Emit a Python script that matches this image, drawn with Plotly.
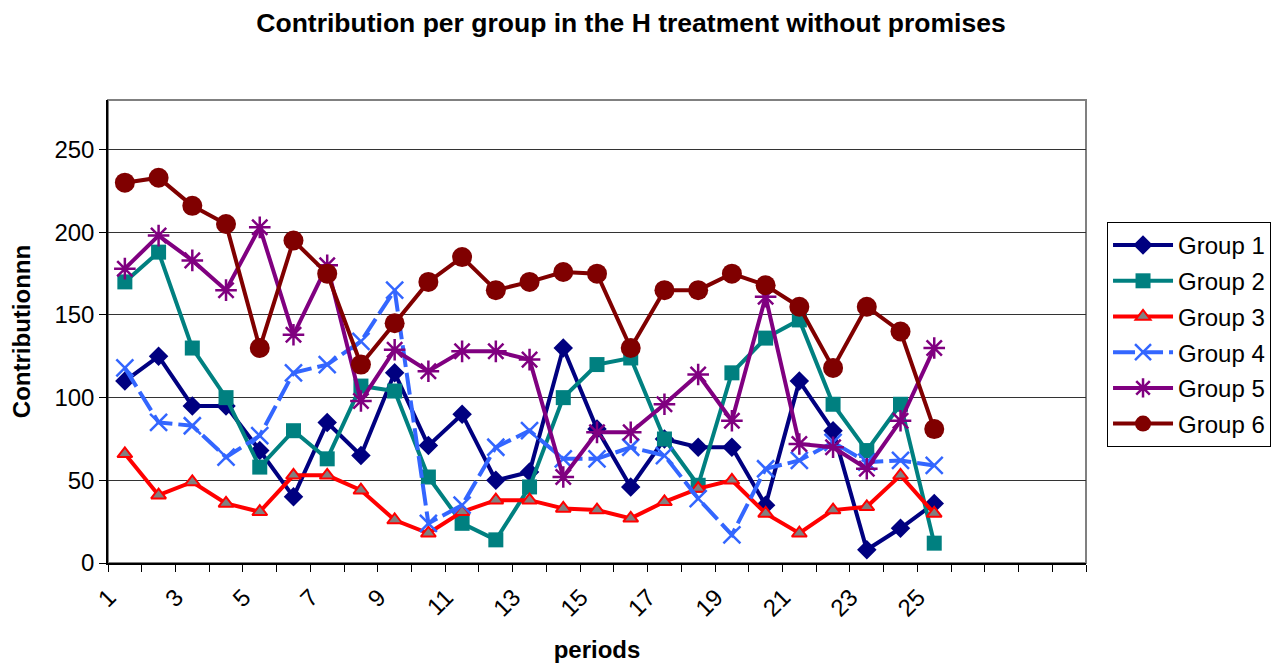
import plotly.graph_objects as go

periods = list(range(1, 26))
tick_vals = list(range(1, 26, 2))
tick_text = [str(v) for v in tick_vals]

group1 = [110, 125, 95, 95, 68, 40, 85, 65, 115, 71, 90, 50, 55, 130, 81, 46, 75, 70, 70, 35, 110, 80, 8, 21, 36]
group2 = [170, 188, 130, 100, 58, 80, 63, 107, 104, 52, 24, 14, 46, 100, 120, 124, 75, 47, 115, 136, 147, 96, 68, 96, 12]
group3 = [66, 41, 49, 36, 31, 53, 53, 44, 26, 18, 31, 38, 38, 33, 32, 27, 37, 45, 50, 30, 18, 32, 34, 53, 30]
group4 = [118, 85, 83, 64, 77, 115, 120, 134, 165, 24, 35, 70, 80, 63, 63, 70, 65, 39, 17, 57, 62, 73, 61, 62, 59]
group5 = [178, 198, 183, 165, 203, 138, 180, 98, 129, 116, 128, 128, 123, 52, 79, 79, 96, 114, 86, 161, 72, 70, 57, 86, 130]
group6 = [230, 233, 216, 205, 130, 195, 175, 120, 145, 170, 185, 165, 170, 176, 175, 130, 165, 165, 175, 168, 155, 118, 155, 140, 81]

FONT = "Arial, Liberation Sans, sans-serif"

fig = go.Figure()

fig.add_trace(go.Scatter(x=periods, y=group1, name="Group 1", legendgroup="g1", mode="lines+markers",
                         line=dict(color="#000080", width=4),
                         marker=dict(symbol="diamond", size=15, color="#000080")))
fig.add_trace(go.Scatter(x=periods, y=group2, name="Group 2", legendgroup="g2", mode="lines+markers",
                         line=dict(color="#008080", width=4),
                         marker=dict(symbol="square", size=15, color="#008080")))
fig.add_trace(go.Scatter(x=periods, y=group3, name="Group 3", legendgroup="g3", mode="lines+markers",
                         line=dict(color="#FF0000", width=4),
                         marker=dict(symbol="triangle-up", size=13, color="#808080",
                                     line=dict(color="#FF0000", width=2))))
fig.add_trace(go.Scatter(x=periods, y=group4, name="Group 4", legendgroup="g4", mode="lines+markers",
                         line=dict(color="#3366FF", width=4, dash="22px,6px"),
                         marker=dict(symbol="x-thin-open", size=17, color="#3366FF",
                                     line=dict(color="#3366FF", width=2.5))))
fig.add_trace(go.Scatter(x=periods, y=group5, name="Group 5", legendgroup="g5", mode="lines+markers",
                         line=dict(color="#800080", width=4),
                         marker=dict(symbol="asterisk-open", size=18, color="#800080",
                                     line=dict(color="#800080", width=2.5))))
fig.add_trace(go.Scatter(x=periods, y=group6, name="Group 6", legendgroup="g6", mode="lines+markers",
                         line=dict(color="#800000", width=4),
                         marker=dict(symbol="circle", size=20, color="#800000")))

fig.add_shape(type="rect", xref="paper", yref="paper", x0=0, y0=0, x1=1, y1=1,
              line=dict(color="#808080", width=2), layer="below")

fig.update_layout(
    width=1272, height=655,
    margin=dict(l=100, r=194, t=92, b=100, autoexpand=False),
    paper_bgcolor="white", plot_bgcolor="white",
    font=dict(family=FONT, size=24, color="black"),
    title=dict(text="<b>Contribution per group in the H treatment without promises</b>",
               font=dict(family=FONT, size=26.5, color="black"),
               x=0.4898, xref="container", xanchor="center",
               y=0.977, yref="container", yanchor="middle"),
    showlegend=True,
    legend=dict(x=1.0215, y=0.7365, xanchor="left", yanchor="top",
                bordercolor="black", borderwidth=1, bgcolor="white",
                font=dict(family=FONT, size=24, color="black"),
                itemwidth=60, tracegroupgap=1.5),
    xaxis=dict(range=[0.5, 29.5], tickmode="array", tickvals=tick_vals, ticktext=tick_text,
               tickangle=-45, ticks="", showgrid=False, zeroline=False,
               ticklabelshift=-16, ticklabelstandoff=9,
               showline=True, linecolor="black", linewidth=1.5,
               minor=dict(tickmode="linear", tick0=0.5, dtick=1, ticks="outside",
                          ticklen=7, tickcolor="black", tickwidth=1, showgrid=False),
               title=dict(text="<b>periods</b>", font=dict(family=FONT, size=24), standoff=23),
               tickfont=dict(family=FONT, size=24), automargin=False),
    yaxis=dict(range=[0, 280], tickmode="array", tickvals=[0, 50, 100, 150, 200, 250],
               ticks="outside", ticklen=7, tickcolor="black",
               showgrid=True, gridcolor="#333333", gridwidth=1, zeroline=False,
               showline=True, linecolor="black", linewidth=1.5,
               title=dict(text="<b>Contributionnn</b>", font=dict(family=FONT, size=24), standoff=19),
               tickfont=dict(family=FONT, size=24), automargin=False),
)

fig.write_html("out.html")
